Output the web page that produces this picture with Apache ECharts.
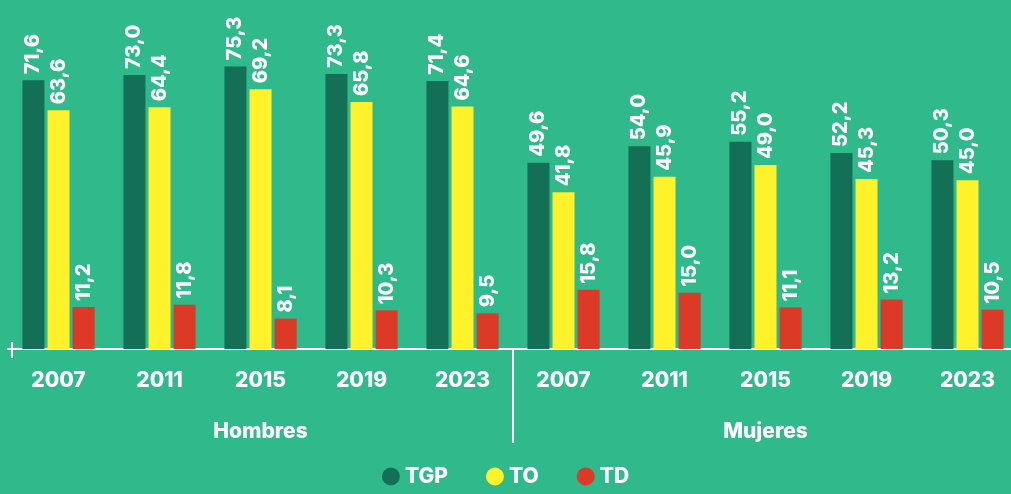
<!DOCTYPE html>
<html>
<head>
<meta charset="utf-8">
<script src="https://cdn.jsdelivr.net/npm/echarts@6/dist/echarts.min.js"></script>
<style>
  html, body { margin: 0; padding: 0; background: #30b98a; }
  #visualisation { width: 1011px; height: 494px; }
</style>
</head>
<body>
<div id="visualisation"></div>
<script>
// Data
const years = ['2007', '2011', '2015', '2019', '2023', '2007', '2011', '2015', '2019', '2023'];
const groups = ['Hombres', 'Mujeres'];
const tgp = [71.6, 73.0, 75.3, 73.3, 71.4, 49.6, 54.0, 55.2, 52.2, 50.3];
const to = [63.6, 64.4, 69.2, 65.8, 64.6, 41.8, 45.9, 49.0, 45.3, 45.0];
const td = [11.2, 11.8, 8.1, 10.3, 9.5, 15.8, 15.0, 11.1, 13.2, 10.5];

const font = 'Inter, "Open Sans", sans-serif';

function drawVisualisation() {
    let visualisation = echarts.init(document.getElementById('visualisation'));

    const label = {
        show: true,
        position: 'top',
        rotate: 90,
        align: 'left',
        verticalAlign: 'middle',
        distance: 6,
        color: '#ffffff',
        fontFamily: font,
        fontWeight: 800,
        fontSize: 20,
        formatter: p => p.value.toFixed(1).replace('.', ',')
    };

    function serie(name, data, color) {
        return {
            name: name,
            type: 'bar',
            data: data,
            barWidth: 22,
            barGap: '14%',
            itemStyle: { color: color },
            label: label
        };
    }

    let option = {
        backgroundColor: '#30b98a',
        animation: false,
        grid: { left: 8, top: 0, height: 349, width: 1010, outerBoundsMode: 'none', containLabel: false },
        legend: {
            bottom: 2,
            left: 'center',
            itemWidth: 18,
            itemHeight: 18,
            itemGap: 38,
            icon: 'circle',
            textStyle: { color: '#ffffff', fontFamily: font, fontWeight: 800, fontSize: 21 },
            data: ['TGP', 'TO', 'TD']
        },
        xAxis: [
            {
                type: 'category',
                data: years,
                axisLine: { show: true, lineStyle: { color: '#ffffff', width: 2 } },
                axisTick: { show: false },
                axisLabel: {
                    color: '#ffffff', fontFamily: font, fontWeight: 800, fontSize: 21, margin: 21
                }
            },
            {
                type: 'category',
                data: groups,
                position: 'bottom',
                axisLine: { show: false },
                axisTick: { show: false },
                axisLabel: {
                    color: '#ffffff', fontFamily: font, fontWeight: 800, fontSize: 21, margin: 72
                }
            }
        ],
        yAxis: {
            type: 'value',
            min: 0,
            max: 93,
            show: false
        },
        series: [
            serie('TGP', tgp, '#136f55'),
            serie('TO', to, '#fff12a'),
            serie('TD', td, '#dc3a27')
        ]
    };

    visualisation.setOption(option);

    // Separador entre grupos y marca inicial del eje
    const xa = visualisation.convertToPixel({ xAxisIndex: 0 }, 4);
    const xb = visualisation.convertToPixel({ xAxisIndex: 0 }, 5);
    const y0 = visualisation.convertToPixel({ yAxisIndex: 0 }, 0);
    const sep = (xa + xb) / 2;
    visualisation.setOption({
        graphic: [
            { type: 'line', shape: { x1: sep, y1: y0, x2: sep, y2: y0 + 94 }, style: { stroke: '#ffffff', lineWidth: 2 } },
            { type: 'line', shape: { x1: 12, y1: y0 - 7, x2: 12, y2: y0 + 9 }, style: { stroke: '#ffffff', lineWidth: 2 } }
        ]
    });
}

window.addEventListener('load', drawVisualisation);
</script>
</body>
</html>
